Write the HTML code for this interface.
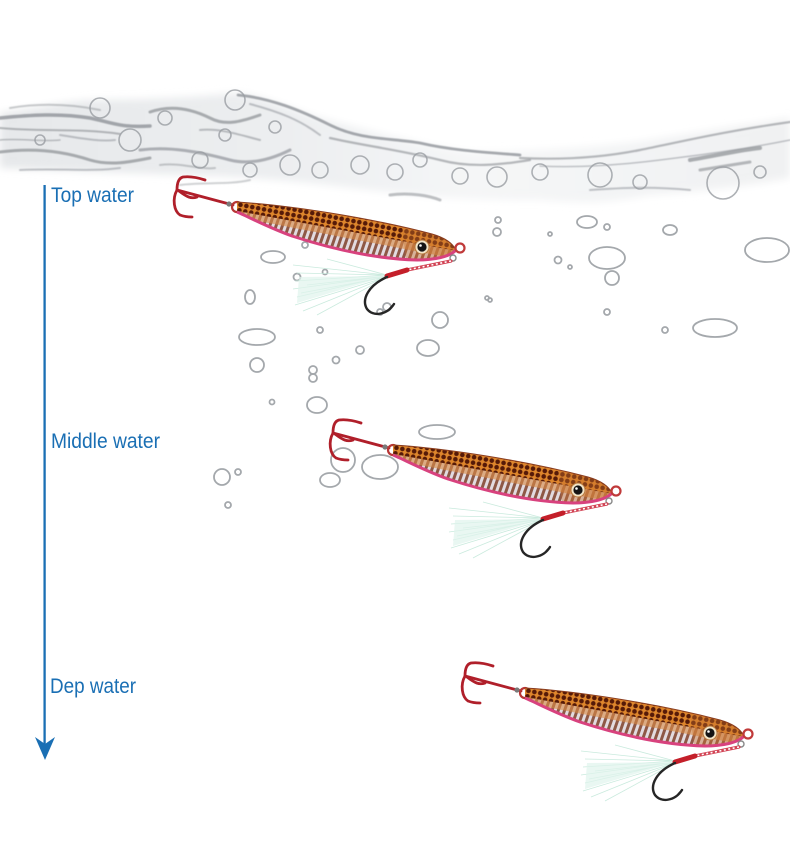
<!DOCTYPE html>
<html><head><meta charset="utf-8"><style>
html,body{margin:0;padding:0;background:#fff;}
svg{display:block;}
</style></head><body>
<svg width="790" height="855" viewBox="0 0 790 855" xmlns="http://www.w3.org/2000/svg">
<defs>
  <filter id="b1" x="-20%" y="-20%" width="140%" height="140%"><feGaussianBlur stdDeviation="0.6"/></filter>
  <filter id="b3" x="-20%" y="-50%" width="140%" height="200%"><feGaussianBlur stdDeviation="4"/></filter>
  <linearGradient id="splashg" x1="0" y1="0" x2="790" y2="0" gradientUnits="userSpaceOnUse">
    <stop offset="0" stop-color="#e6e8ea"/>
    <stop offset="0.35" stop-color="#eceef0"/>
    <stop offset="0.6" stop-color="#f5f6f7"/>
    <stop offset="1" stop-color="#f0f1f2"/>
  </linearGradient>
  <pattern id="dots" width="6" height="5.6" patternUnits="userSpaceOnUse" patternTransform="rotate(11)">
    <rect width="6" height="5.6" fill="#de862c"/>
    <circle cx="3" cy="2.8" r="2.3" fill="#561a08"/>
  </pattern>
  <pattern id="bars" width="6" height="30" patternUnits="userSpaceOnUse" patternTransform="rotate(11) skewX(-8)">
    <rect width="6" height="30" fill="#e2dbe0"/>
    <rect width="3" height="30" fill="#8e5846"/>
  </pattern>
  <clipPath id="bodyclip">
    <path d="M0,-5 C50,-2 130,10 195,27 C209,31 216,37 219,43 C213,50 196,53 180,53 C140,52 95,42 55,29 C30,20 10,9 0,5 Z"/>
  </clipPath>
  <g id="lure">
    <!-- feather -->
    <g stroke="#c4e8da" stroke-width="0.8" fill="none" opacity="0.9">
      <path d="M150,68 L56,58"/><path d="M150,68 L60,66"/><path d="M150,68 L58,74"/>
      <path d="M150,69 L56,82"/><path d="M150,69 L60,90"/><path d="M150,70 L58,98"/>
      <path d="M150,70 L66,104"/><path d="M150,70 L80,108"/><path d="M150,68 L90,52"/>
      <path d="M150,69 L70,78"/><path d="M150,70 L64,86"/>
    </g>
    <path d="M150,69 L62,70 L60,96 Z" fill="#e0f3ec" opacity="0.7"/>
    <!-- treble hook -->
    <g fill="none" stroke="#b01f2a" stroke-width="2.8" stroke-linecap="round">
      <path d="M-4,-2 L-60,-17"/>
      <path d="M-60,-17 C-60,-24 -58,-29 -54,-30 C-46,-31 -38,-29 -32,-27"/>
      <path d="M-60,-17 C-65,-8 -63,4 -57,8 C-52,10 -48,10 -45,10"/>
      <path d="M-58,-16 C-50,-10 -46,-8 -40,-10"/>
    </g>
    <circle cx="-8" cy="-3" r="2.6" fill="#7a7a7a"/>
    <circle cx="0" cy="0" r="5" fill="none" stroke="#b83535" stroke-width="2.2"/>
    <!-- body -->
    <g clip-path="url(#bodyclip)">
      <rect x="-5" y="-10" width="230" height="70" fill="url(#bars)"/>
      <polygon points="-5,2 225,45 225,53 -5,9" fill="#d98a45" opacity="0.6"/>
      <polygon points="-5,-10 225,-10 225,45 -5,3" fill="url(#dots)"/>
      <polygon points="165,20 225,20 225,60 170,60" fill="#c87230" opacity="0.4"/>
    </g>
    <path d="M0,5 C10,9 30,20 55,29 C95,42 140,52 180,53 C196,53 213,50 219,43" fill="none" stroke="#d8427e" stroke-width="3"/>
    <path d="M0,-5 C50,-2 130,10 195,27 C209,31 216,37 219,43" fill="none" stroke="#8a3c1e" stroke-width="1"/>
    <!-- eye -->
    <circle cx="185" cy="40" r="7" fill="#f3e5c8" stroke="#b87a3e" stroke-width="1"/>
    <circle cx="185" cy="40" r="4.6" fill="#141414"/>
    <circle cx="183.5" cy="38.5" r="1.3" fill="#fff"/>
    <!-- front ring -->
    <circle cx="223" cy="41" r="4.5" fill="none" stroke="#c03a3a" stroke-width="2.2"/>
    <circle cx="216" cy="51" r="3" fill="none" stroke="#888" stroke-width="1.4"/>
    <!-- assist line -->
    <path d="M214,54 L170,63" stroke="#d24455" stroke-width="3.2" stroke-linecap="round"/>
    <path d="M214,54 L170,63" stroke="#fff" stroke-width="1.6" stroke-dasharray="2 2.5"/>
    <path d="M170,63 L150,69" stroke="#c41f2a" stroke-width="5" stroke-linecap="round"/>
    <!-- single hook -->
    <path d="M150,70 C132,78 124,92 130,102 C136,110 150,108 157,97" fill="none" stroke="#262626" stroke-width="2.4" stroke-linecap="round"/>
    <path d="M157,97 L153,101" stroke="#262626" stroke-width="1.5"/>
  </g>
</defs>

<!-- water splash -->
<path d="M0,113 C40,108 70,100 100,100 C140,100 200,97 235,93 C260,95 290,108 320,118 C360,128 420,145 470,152 C540,152 620,145 650,140 C700,132 750,124 790,118 L790,178 C750,185 720,190 650,195 C620,200 600,205 540,200 C500,200 460,200 420,195 C380,192 340,186 300,182 C260,178 220,176 180,175 C120,173 60,170 0,168 Z" fill="url(#splashg)" filter="url(#b3)"/>
<g fill="none" stroke="#8a8e93" stroke-linecap="round" filter="url(#b1)">
  <path d="M0,118 C30,115 60,113 90,118 C110,122 120,128 150,126" stroke-width="3.5" opacity="0.75"/>
  <path d="M0,128 C40,132 80,128 120,134" stroke-width="2" opacity="0.6"/>
  <path d="M10,108 C40,103 70,104 100,110" stroke-width="2" opacity="0.45"/>
  <path d="M0,152 C30,148 60,150 90,160 C110,166 130,162 150,158" stroke-width="3" opacity="0.7"/>
  <path d="M20,170 C60,168 90,172 120,168" stroke-width="2" opacity="0.5"/>
  <path d="M0,140 C20,138 40,142 60,140" stroke-width="1.5" opacity="0.55"/>
  <path d="M150,112 C170,105 190,108 210,118 C225,126 240,122 260,115" stroke-width="3" opacity="0.7"/>
  <path d="M140,150 C170,146 200,152 230,160 C250,165 270,160 290,150" stroke-width="3" opacity="0.65"/>
  <path d="M200,130 C220,128 240,135 260,140" stroke-width="2" opacity="0.55"/>
  <path d="M238,95 C270,98 300,110 330,125 C360,140 390,138 420,143 C450,150 480,152 520,155" stroke-width="2.8" opacity="0.75"/>
  <path d="M250,104 C280,112 300,120 320,135" stroke-width="2" opacity="0.5"/>
  <path d="M330,138 C360,145 400,150 440,160 C470,168 500,165 530,160" stroke-width="2.2" opacity="0.6"/>
  <path d="M520,158 C560,160 600,158 640,150 C680,142 720,132 790,122" stroke-width="2.2" opacity="0.6"/>
  <path d="M540,166 C580,168 620,165 660,160 C700,155 740,150 790,140" stroke-width="1.5" opacity="0.5"/>
  <path d="M690,160 C720,155 740,150 760,148" stroke-width="4" opacity="0.7"/>
  <path d="M700,170 L750,162" stroke-width="3" opacity="0.6"/>
  <path d="M590,190 C620,188 650,186 690,190" stroke-width="2" opacity="0.5"/>
  <path d="M390,195 C410,192 430,196 440,200" stroke-width="3" opacity="0.55"/>
  <path d="M180,185 C200,182 230,185 250,180" stroke-width="2" opacity="0.4"/>
  <path d="M60,135 C80,138 100,142 115,140" stroke-width="2" opacity="0.5"/>
  <path d="M160,165 C180,162 200,170 215,168" stroke-width="2" opacity="0.45"/>
</g>
<g fill="none" stroke="#9a9ea3" stroke-width="1.6" opacity="0.8">
  <circle cx="100" cy="108" r="10"/><circle cx="130" cy="140" r="11"/><circle cx="165" cy="118" r="7"/>
  <circle cx="235" cy="100" r="10"/><circle cx="225" cy="135" r="6"/><circle cx="275" cy="127" r="6"/>
  <circle cx="290" cy="165" r="10"/><circle cx="320" cy="170" r="8"/><circle cx="360" cy="165" r="9"/>
  <circle cx="395" cy="172" r="8"/><circle cx="420" cy="160" r="7"/><circle cx="460" cy="176" r="8"/>
  <circle cx="497" cy="177" r="10"/><circle cx="540" cy="172" r="8"/><circle cx="600" cy="175" r="12"/>
  <circle cx="640" cy="182" r="7"/><circle cx="723" cy="183" r="16"/><circle cx="760" cy="172" r="6"/>
  <circle cx="40" cy="140" r="5"/><circle cx="200" cy="160" r="8"/><circle cx="250" cy="170" r="7"/>
</g>
<!-- bubbles -->
<g fill="none" stroke="#a4a8ac" stroke-width="1.8">
  <ellipse cx="273" cy="257" rx="12" ry="6"/><ellipse cx="250" cy="297" rx="5" ry="7"/>
  <ellipse cx="257" cy="337" rx="18" ry="8"/><circle cx="257" cy="365" r="7"/>
  <circle cx="313" cy="370" r="4"/><circle cx="313" cy="378" r="4"/><ellipse cx="317" cy="405" rx="10" ry="8"/>
  <circle cx="272" cy="402" r="2.5"/><circle cx="320" cy="330" r="3"/><circle cx="360" cy="350" r="4"/>
  <circle cx="336" cy="360" r="3.5"/><circle cx="440" cy="320" r="8"/><ellipse cx="428" cy="348" rx="11" ry="8"/>
  <ellipse cx="437" cy="432" rx="18" ry="7"/><ellipse cx="380" cy="467" rx="18" ry="12"/>
  <circle cx="343" cy="460" r="12"/><ellipse cx="330" cy="480" rx="10" ry="7"/>
  <circle cx="222" cy="477" r="8"/><circle cx="238" cy="472" r="3"/><circle cx="228" cy="505" r="3"/>
  <circle cx="297" cy="277" r="3.5"/><circle cx="305" cy="245" r="3"/><circle cx="325" cy="272" r="2.5"/>
  <circle cx="387" cy="307" r="4"/><circle cx="380" cy="312" r="3"/><circle cx="487" cy="298" r="2"/>
  <circle cx="497" cy="232" r="4"/><circle cx="498" cy="220" r="3"/><ellipse cx="587" cy="222" rx="10" ry="6"/>
  <circle cx="607" cy="227" r="3"/><ellipse cx="670" cy="230" rx="7" ry="5"/><circle cx="550" cy="234" r="2"/>
  <circle cx="558" cy="260" r="3.5"/><circle cx="570" cy="267" r="2"/><ellipse cx="607" cy="258" rx="18" ry="11"/>
  <circle cx="612" cy="278" r="7"/><ellipse cx="767" cy="250" rx="22" ry="12"/><ellipse cx="715" cy="328" rx="22" ry="9"/>
  <circle cx="607" cy="312" r="3"/><circle cx="665" cy="330" r="3"/><circle cx="490" cy="300" r="2"/>
</g>

<!-- arrow -->
<line x1="44.6" y1="185" x2="44.6" y2="746" stroke="#1a6fb4" stroke-width="2.3"/>
<path d="M45,760 L35,737 L45,744 L55,737 Z" fill="#1a6fb4"/>
<g font-family="'Liberation Sans Narrow','Liberation Sans',sans-serif" font-size="21" fill="#1a6fb4">
  <text x="51" y="202" textLength="83" lengthAdjust="spacingAndGlyphs">Top water</text>
  <text x="51" y="448" textLength="109" lengthAdjust="spacingAndGlyphs">Middle water</text>
  <text x="50" y="693" textLength="86" lengthAdjust="spacingAndGlyphs">Dep water</text>
</g>

<!-- lures -->
<use href="#lure" transform="translate(237,207)"/>
<use href="#lure" transform="translate(393,450)"/>
<use href="#lure" transform="translate(525,693)"/>
</svg>
</body></html>
